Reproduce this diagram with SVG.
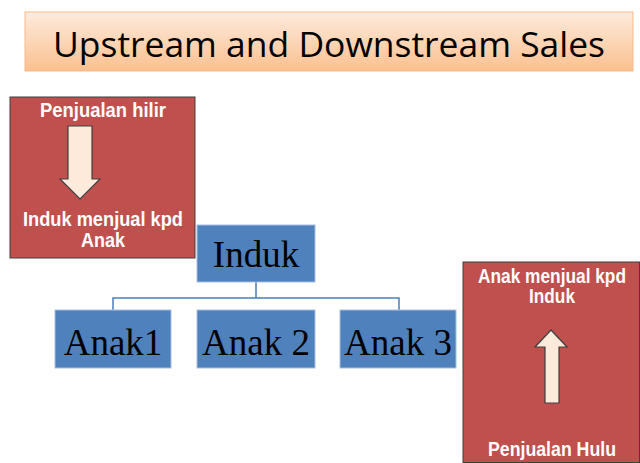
<svg xmlns="http://www.w3.org/2000/svg" width="640" height="463" viewBox="0 0 640 463">
<defs>
<linearGradient id="tg" x1="0" y1="0" x2="0" y2="1">
<stop offset="0" stop-color="#FDEBDD"/>
<stop offset="1" stop-color="#FBC08F"/>
</linearGradient>
<style>
.red{fill:#C0504D;stroke:#3F3F3F;stroke-width:1}
.blue{fill:#4F81BD;stroke:#A7BFDE;stroke-width:1}
.wt{font-family:"Liberation Sans",Arial,sans-serif;font-weight:bold;font-size:19.5px;fill:#FFFFFF;text-anchor:middle}
.st{font-family:"Liberation Serif","Times New Roman",serif;font-size:37px;fill:#000000;text-anchor:middle}
.arr{fill:#FDEADA;stroke:#3F3F3F;stroke-width:1.2}
.con{fill:none;stroke:#4A7EBB;stroke-width:1.5}
</style>
</defs>
<rect width="640" height="463" fill="#FFFFFF"/>
<g id="title">
<rect x="25" y="12" width="608" height="59" fill="url(#tg)" stroke="#F9B98A" stroke-width="1"/>
<text x="329" y="57" font-family="'Open Sans','Liberation Sans',sans-serif" font-size="35" fill="#000" text-anchor="middle" textLength="552" lengthAdjust="spacingAndGlyphs">Upstream and Downstream Sales</text>
</g>
<g id="downstream">
<rect class="red" x="10" y="97" width="185" height="161"/>
<text class="wt" x="103" y="117" textLength="126" lengthAdjust="spacingAndGlyphs">Penjualan hilir</text>
<path class="arr" d="M68 126 H92 V179 H100 L80 199 L60 179 H68 Z"/>
<text class="wt" x="103" y="226" textLength="160" lengthAdjust="spacingAndGlyphs">Induk menjual kpd</text>
<text class="wt" x="103" y="247" textLength="44" lengthAdjust="spacingAndGlyphs">Anak</text>
</g>
<g id="upstream">
<rect class="red" x="463" y="262" width="176.5" height="200.5"/>
<text class="wt" x="552" y="283" textLength="148" lengthAdjust="spacingAndGlyphs">Anak menjual kpd</text>
<text class="wt" x="552" y="303" textLength="46" lengthAdjust="spacingAndGlyphs">Induk</text>
<path class="arr" d="M545 403 V347 H535 L551 330 L567 347 H559 V403 Z"/>
<text class="wt" x="552" y="456" textLength="128" lengthAdjust="spacingAndGlyphs">Penjualan Hulu</text>
</g>
<g id="connectors">
<path class="con" d="M256 282 V298 M113 310 V298 H399 V310"/>
</g>
<g id="induk">
<rect class="blue" x="197" y="225" width="118" height="57"/>
<text class="st" x="256" y="267">Induk</text>
</g>
<g id="anak1">
<rect class="blue" x="55" y="310" width="116" height="58"/>
<text class="st" x="113" y="355">Anak1</text>
</g>
<g id="anak2">
<rect class="blue" x="197" y="310" width="118" height="58"/>
<text class="st" x="256" y="355">Anak 2</text>
</g>
<g id="anak3">
<rect class="blue" x="340" y="310" width="116" height="58"/>
<text class="st" x="398" y="355">Anak 3</text>
</g>
</svg>
